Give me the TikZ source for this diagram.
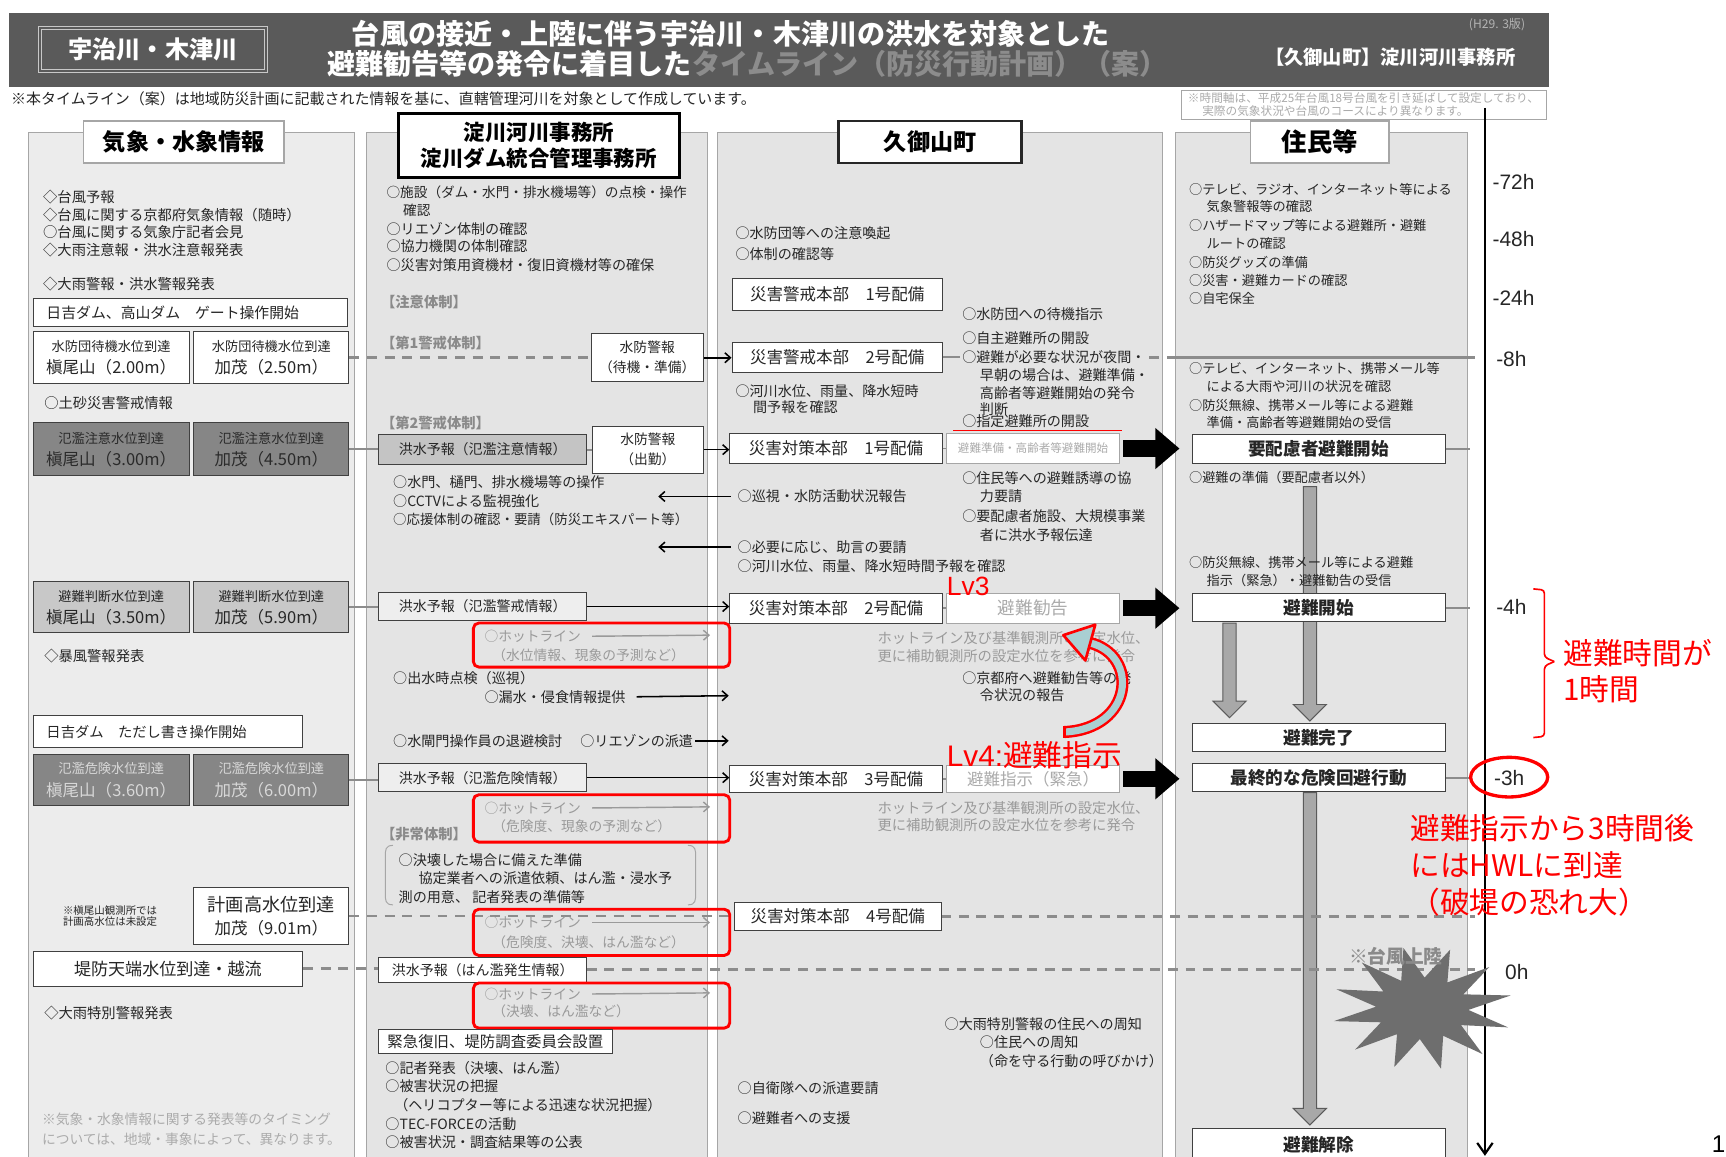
\documentclass[tikz,border=0pt]{standalone}
\usepackage{fontspec}
\setmainfont{Noto Sans CJK JP}
\newfontfamily\lat{Liberation Sans}
\usetikzlibrary{arrows.meta,fit,calc}
\newcommand\fsz[1]{\fontsize{#1}{#1}\selectfont}
\definecolor{txt}{HTML}{262626}
\definecolor{hdr}{HTML}{5A5A5A}
\definecolor{hdrline}{HTML}{C8C8C8}
\definecolor{hdrgray}{HTML}{8C8C8C}
\definecolor{lgray}{HTML}{B4B4B4}
\definecolor{colbg}{HTML}{E4E4E4}
\definecolor{colbgA}{HTML}{ECECEC}
\definecolor{colline}{HTML}{A6A6A6}
\definecolor{bxline}{HTML}{404040}
\definecolor{hgray}{HTML}{8A8A8A}
\definecolor{hotgray}{HTML}{9A9A9A}
\definecolor{tickgray}{HTML}{8C8C8C}
\definecolor{dashgray}{HTML}{8C8C8C}
\definecolor{darkbox}{HTML}{868686}
\definecolor{lightbox}{HTML}{C8C8C8}
\definecolor{fboxA}{HTML}{C4C4C4}
\definecolor{fboxB}{HTML}{EEEEEE}
\definecolor{gtext}{HTML}{ABABAB}
\definecolor{curv}{HTML}{A9CFD2}
\definecolor{burst}{HTML}{6E6E6E}
\definecolor{blkfill}{HTML}{A8A8A8}
\definecolor{blkline}{HTML}{5A5A5A}
\definecolor{darktxt}{HTML}{2A2A2A}
\definecolor{lighttxt}{HTML}{D8D8D8}
\tikzset{
  tl/.style={anchor=west, inner sep=0pt, text=txt, font=\fsz{12.8}},
  tlc/.style={anchor=west, inner sep=0pt, text=txt, font=\fsz{12}},
  hd/.style={anchor=west, inner sep=0pt, text=hgray, font=\bfseries\fsz{13}},
  bx/.style={draw=bxline, fill=white, line width=0.9pt, inner sep=0pt, text=txt},
  rbox/.style={draw=red, line width=2.6pt, rounded corners=5pt},
  hot/.style={anchor=west, inner sep=0pt, text=hotgray, font=\fsz{12.5}},
  harr/.style={draw=hotgray, line width=1.3pt, -{Straight Barb[length=5pt,width=9pt]}},
  arr/.style={draw=black, line width=1.4pt, -{Straight Barb[length=5pt,width=9pt]}},
  tick/.style={draw=tickgray, line width=1.6pt},
  dsh/.style={draw=dashgray, line width=2.4pt, dash pattern=on 9pt off 7pt},
  bigarr/.style={draw=black, line width=15pt, -{Triangle[length=22pt,width=36pt]}},
  colm/.style={fill=colbg, draw=colline, line width=0.8pt},
  ttl/.style={fill=white, inner sep=0pt},
  tlab/.style={font=\lat\fsz{19}, inner sep=0pt, text=txt},
  redt/.style={anchor=west, inner sep=0pt, text=red, font=\fsz{27}},
}
% box with centred text: name, box options, text options, text
\newcommand\tbox[4]{%
  \node[bx, #2] (#1) {};
  \node[inner sep=0pt, text=txt, #3] (#1t) at (#1.center) {#4};}
% name, x0, x1, y0, y1, fill, textcolor, line1, line2
\newcommand\lvbox[9]{%
  \node[bx, fill=#6, fit={(#2,#4)(#3,#5)}] (#1) {};
  \node[inner sep=0pt, text=#7, font=\fsz{12}] (#1a) at ($(#1.center)+(0,-10)$) {#8};
  \node[inner sep=0pt, text=#7, font=\fsz{15}] (#1b) at ($(#1.center)+(0,9)$) {#9};}
% x, ytop, ybottom
\newcommand\vblk[3]{%
  \filldraw[fill=blkfill, draw=blkline, line width=0.9pt] ({#1-6},#2) -- ({#1+6},#2) -- ({#1+6},{#3-15}) -- ({#1+15},{#3-15}) -- (#1,#3) -- ({#1-15},{#3-15}) -- ({#1-6},{#3-15}) -- cycle;}
\begin{document}
\begin{tikzpicture}[x=1pt,y=-1pt]
\useasboundingbox (0,0) rectangle (1568,1051);
\fill[white] (0,0) rectangle (1568,1051);
% ---------- header ----------
\fill[hdr] (8,12) rectangle (1407,79);
\draw[hdrline, line width=1.2pt] (35,24) rectangle (243,66);
\draw[hdrline, line width=0.6pt] (38,27) rectangle (240,63);
\node[inner sep=0pt, text=white, font=\bfseries\fsz{22}] (river) at (139,45) {宇治川・木津川};
\node[inner sep=0pt, text=white, font=\bfseries\fsz{25.5}] (title1) at (664,31) {台風の接近・上陸に伴う宇治川・木津川の洪水を対象とした};
\node[anchor=west, inner sep=0pt, text=white, font=\bfseries\fsz{25.5}] (title2) at (297,58) {避難勧告等の発令に着目した\textcolor{hdrgray}{タイムライン（防災行動計画）（案）}};
\node[inner sep=0pt, text=lgray, font=\fsz{11}] (ver) at (1360,22) {(H29. 3版)};
\node[inner sep=0pt, text=white, font=\bfseries\fsz{17.5}] (office) at (1263,52) {【久御山町】淀川河川事務所};
\node[tl, font=\fsz{13.6}] (note0) at (10,90) {※本タイムライン（案）は地域防災計画に記載された情報を基に、直轄管理河川を対象として作成しています。};
\node[draw=colline, fill=white, inner sep=0pt, fit={(1073,82)(1405,108)}] (nbox) {};
\node[anchor=west, inner sep=0pt, text=gtext, font=\fsz{10.6}] (nb1) at (1079,89) {※時間軸は、平成25年台風18号台風を引き延ばして設定しており、};
\node[anchor=west, inner sep=0pt, text=gtext, font=\fsz{10.6}] (nb2) at (1092,101) {実際の気象状況や台風のコースにより異なります。};
% ---------- columns ----------
\filldraw[colm, fill=colbgA] (26,120) rectangle (322,1062);
\filldraw[colm] (333,120) rectangle (643,1062);
\filldraw[colm] (652,120) rectangle (1056,1062);
\filldraw[colm] (1068,120) rectangle (1333,1062);
\node[ttl, draw=colline, line width=1.5pt, fit={(76,110)(258,148)}] (h1) {};
\node[inner sep=0pt, font=\bfseries\fsz{21}] (h1t) at (h1.center) {気象・水象情報};
\node[ttl, draw=black, line width=2.5pt, fit={(362,103)(617,161)}] (h2) {};
\node[inner sep=0pt, align=center, font=\bfseries\fontsize{19.5}{23}\selectfont] (h2t) at (h2.center) {淀川河川事務所\\淀川ダム統合管理事務所};
\node[ttl, draw=black!85, line width=2.5pt, fit={(762,110)(928,148)}] (h3) {};
\node[inner sep=0pt, font=\bfseries\fsz{21}] (h3t) at (h3.center) {久御山町};
\node[ttl, draw=colline, line width=1.5pt, fit={(1136,110)(1262,148)}] (h4) {};
\node[inner sep=0pt, font=\bfseries\fsz{23}] (h4t) at (h4.center) {住民等};
% ---------- time axis ----------
\coordinate (ax0) at (1349,98);
\coordinate (ax1) at (1349,1050);
\draw[line width=2pt, -{Straight Barb[length=10pt,width=14pt]}] (ax0) -- (ax1);
\node[tlab] (t72) at (1375,165) {-72h};
\node[tlab] (t48) at (1375,217) {-48h};
\node[tlab] (t24) at (1375,271) {-24h};
\node[tlab] (t8) at (1373,326) {-8h};
\node[tlab] (t4) at (1373,551) {-4h};
\node[tlab] (t3) at (1371,707) {-3h};
\node[tlab] (t0) at (1378,883) {0h};
% ---------- block arrows in residents column ----------
\vblk{1190}{442}{655}
\vblk{1117}{566}{652}
\vblk{1190}{720}{1022}
% ---------- column 1 ----------
\node[tl, font=\fsz{13}] (c1a) at (39,179) {◇台風予報};
\node[tl, font=\fsz{13}] (c1b) at (39,195) {◇台風に関する京都府気象情報（随時）};
\node[tl, font=\fsz{13}] (c1c) at (39,211) {○台風に関する気象庁記者会見};
\node[tl, font=\fsz{13}] (c1d) at (39,227) {◇大雨注意報・洪水注意報発表};
\node[tl, font=\fsz{13}] (c1e) at (39,258) {◇大雨警報・洪水警報発表};
\node[bx, fit={(30,271)(316,297)}] (gate) {};
\node[tl, font=\fsz{13.5}] (gatet) at (42,284) {日吉ダム、高山ダム　ゲート操作開始};
\lvbox{m1}{30}{172}{301}{348}{white}{txt}{水防団待機水位到達}{槇尾山（2.00m）}
\lvbox{m2}{176}{317}{301}{348}{white}{txt}{水防団待機水位到達}{加茂（2.50m）}
\node[tl, font=\fsz{13}] (c1f) at (40,366) {○土砂災害警戒情報};
\lvbox{m3}{30}{172}{384}{432}{darkbox}{darktxt}{氾濫注意水位到達}{槇尾山（3.00m）}
\lvbox{m4}{176}{317}{384}{432}{darkbox}{darktxt}{氾濫注意水位到達}{加茂（4.50m）}
\lvbox{m5}{30}{172}{528}{575}{lightbox}{txt}{避難判断水位到達}{槇尾山（3.50m）}
\lvbox{m6}{176}{317}{528}{575}{lightbox}{txt}{避難判断水位到達}{加茂（5.90m）}
\node[tl, font=\fsz{13}] (c1g) at (40,596) {◇暴風警報発表};
\node[bx, fit={(30,650)(275,679)}] (tadashi) {};
\node[tl, font=\fsz{13}] (tadashit) at (42,665) {日吉ダム　ただし書き操作開始};
\lvbox{m7}{30}{172}{685}{732}{darkbox}{lighttxt}{氾濫危険水位到達}{槇尾山（3.60m）}
\lvbox{m8}{176}{317}{685}{732}{darkbox}{lighttxt}{氾濫危険水位到達}{加茂（6.00m）}
\node[inner sep=0pt, text=txt, font=\fsz{9.5}, align=center] (c1note) at (100,832) {※槇尾山観測所では\\計画高水位は未設定};
\node[bx, fit={(176,806)(317,858)}] (hwl) {};
\node[inner sep=0pt, text=txt, font=\fsz{16.5}] (hwla) at (246.5,822) {計画高水位到達};
\node[inner sep=0pt, text=txt, font=\fsz{15}] (hwlb) at (246.5,843) {加茂（9.01m）};
\tbox{tei}{fit={(30,864)(275,896)}}{font=\fsz{15.5}}{堤防天端水位到達・越流}
\node[tl, font=\fsz{13}] (c1h) at (40,920) {◇大雨特別警報発表};
\node[tl, font=\fsz{12.5}, text=gtext] (c1i) at (38,1017) {※気象・水象情報に関する発表等のタイミング};
\node[tl, font=\fsz{12.5}, text=gtext] (c1j) at (38,1035) {については、地域・事象によって、異なります。};
% ---------- dashed lines ----------
\draw[dsh] (m2.east) -- (m2.east -| 537,0);
\draw[dsh] (1044,325) -- (1340,325);
\draw[dsh] (hwl.east) -- (hwl.east -| 667,0);
\draw[dsh] (855,832.5) -- (1340,832.5);
\draw[dsh] (tei.east) -- (344,880);
\draw[dsh] (533,881) -- (1340,881);
% ---------- column 2 ----------
\node[tl, font=\fsz{12.4}] (c2a) at (351,175) {○施設（ダム・水門・排水機場等）の点検・操作};
\node[tl, font=\fsz{12.4}] (c2b) at (366,191) {確認};
\node[tl, font=\fsz{12.8}] (c2c) at (351,208) {○リエゾン体制の確認};
\node[tl, font=\fsz{12.8}] (c2d) at (351,224) {○協力機関の体制確認};
\node[tl, font=\fsz{12.8}] (c2e) at (351,241) {○災害対策用資機材・復旧資機材等の確保};
\node[hd] (s1) at (346,274) {【注意体制】};
\node[hd] (s2) at (346,312) {【第1警戒体制】};
\tbox{w1}{fit={(537,303)(639,347)}}{align=center, font=\fontsize{12.5}{18}\selectfont}{水防警報\\（待機・準備）}
\node[hd] (s3) at (346,384) {【第2警戒体制】};
\tbox{f1}{fill=fboxA, fit={(344,395)(533,422)}}{font=\fsz{12.7}}{洪水予報（氾濫注意情報）}
\tbox{w2}{fit={(538,387)(639,430)}}{align=center, font=\fontsize{12.5}{18}\selectfont}{水防警報\\（出勤）}
\node[tl] (c2f) at (357,438) {○水門、樋門、排水機場等の操作};
\node[tl] (c2g) at (357,455) {○CCTVによる監視強化};
\node[tl, font=\fsz{12.2}] (c2h) at (357,472) {○応援体制の確認・要請（防災エキスパート等）};
\tbox{f2}{fill=fboxB, fit={(344,538)(533,564)}}{font=\fsz{12.7}}{洪水予報（氾濫警戒情報）}
\node[hot] (hot1) at (440,578) {○ホットライン};
\coordinate (hot1e) at (645,577);
\draw[harr] ([xshift=10pt]hot1.east) -- (hot1e);
\node[hot] (hot1b) at (447,595) {（水位情報、現象の予測など）};
\draw[rbox] (430,566) rectangle (663,606);
\node[tl] (c2i) at (357,616) {○出水時点検（巡視）};
\node[tl] (rosui) at (440,633) {○漏水・侵食情報提供};
\coordinate (rosuie) at (662,632);
\draw[arr] ([xshift=10pt]rosui.east) -- (rosuie);
\node[tl] (c2j) at (357,673) {○水閘門操作員の退避検討};
\node[tl] (liaison) at (527,673) {○リエゾンの派遣};
\coordinate (liaisone) at (662,673);
\draw[arr] ([xshift=2pt]liaison.east) -- (liaisone);
\tbox{f3}{fill=fboxB, fit={(344,694)(533,719)}}{font=\fsz{12.7}}{洪水予報（氾濫危険情報）}
\node[hot] (hot2) at (440,734) {○ホットライン};
\coordinate (hot2e) at (645,733);
\draw[harr] ([xshift=10pt]hot2.east) -- (hot2e);
\node[hot] (hot2b) at (447,751) {（危険度、現象の予測など）};
\draw[rbox] (430,722) rectangle (663,765);
\node[hd] (s4) at (346,758) {【非常体制】};
\draw[colline, line width=0.9pt] (357,768) .. controls (350,768) and (350,772) .. (350,779) -- (350,811) .. controls (350,818) and (350,822) .. (357,822);
\draw[colline, line width=0.9pt] (625,768) .. controls (632,768) and (632,772) .. (632,779) -- (632,811) .. controls (632,818) and (632,822) .. (625,822);
\node[tl] (c2k) at (362,781) {○決壊した場合に備えた準備};
\node[tl] (c2l) at (380,798) {協定業者への派遣依頼、はん濫・浸水予};
\node[tl] (c2m) at (362,815) {測の用意、 記者発表の準備等};
\node[hot] (hot3) at (440,838) {○ホットライン};
\coordinate (hot3e) at (645,838);
\draw[harr] ([xshift=10pt]hot3.east) -- (hot3e);
\node[hot] (hot3b) at (447,856) {（危険度、決壊、はん濫など）};
\draw[rbox] (430,826) rectangle (663,868);
\tbox{f4}{fit={(344,870)(533,893)}}{font=\fsz{12.7}}{洪水予報（はん濫発生情報）}
\node[hot] (hot4) at (440,903) {○ホットライン};
\coordinate (hot4e) at (645,902);
\draw[harr] ([xshift=10pt]hot4.east) -- (hot4e);
\node[hot] (hot4b) at (447,919) {（決壊、はん濫など）};
\draw[rbox] (430,893) rectangle (663,934);
\tbox{f5}{fit={(344,935)(556,957)}}{font=\fsz{14}}{緊急復旧、堤防調査委員会設置}
\node[tl] (c2n) at (350,970) {○記者発表（決壊、はん濫）};
\node[tl] (c2o) at (350,987) {○被害状況の把握};
\node[tl] (c2p) at (358,1004) {（ヘリコプター等による迅速な状況把握）};
\node[tl] (c2q) at (350,1021) {○TEC-FORCEの活動};
\node[tl] (c2r) at (350,1038) {○被害状況・調査結果等の公表};
% ---------- column 3 ----------
\node[tl] (c3a) at (668,212) {○水防団等への注意喚起};
\node[tl] (c3b) at (668,231) {○体制の確認等};
\tbox{k1}{fit={(665,253)(856,282)}}{font=\fsz{15}}{災害警戒本部　1号配備}
\node[tl] (c3c) at (874,285) {○水防団への待機指示};
\node[tl] (c3d) at (874,307) {○自主避難所の開設};
\tbox{k2}{fit={(665,311)(856,338)}}{font=\fsz{15}}{災害警戒本部　2号配備}
\draw[tick] (k2.east) -- (872,324.5);
\node[tl] (c3e) at (874,324) {○避難が必要な状況が夜間・};
\node[tl] (c3f) at (890,341) {早朝の場合は、避難準備・};
\node[tl] (c3g) at (890,357) {高齢者等避難開始の発令};
\node[tl] (c3h) at (890,372) {判断};
\node[tl] (c3i) at (668,355) {○河川水位、雨量、降水短時};
\node[tl] (c3j) at (684,370) {間予報を確認};
\node[tl] (c3k) at (874,383) {○指定避難所の開設};
\draw[red, line width=1.2pt] (866,391) -- (1019,391);
\tbox{t1}{fit={(663,394)(856,421)}}{font=\fsz{15}}{災害対策本部　1号配備}
\tbox{g1}{draw=colline, fit={(860,394)(1017,421)}}{font=\fsz{10.5}, text=gtext}{避難準備・高齢者等避難開始}
\node[tl] (jun) at (670,451) {○巡視・水防活動状況報告};
\coordinate (la1) at (598,451);
\draw[arr] ($(jun.west)+(-6,0)$) -- (la1);
\node[tl] (c3l) at (874,434) {○住民等への避難誘導の協};
\node[tl] (c3m) at (890,451) {力要請};
\node[tl] (c3n) at (874,469) {○要配慮者施設、大規模事業};
\node[tl] (c3o) at (890,486) {者に洪水予報伝達};
\node[tl] (jogen) at (670,497) {○必要に応じ、助言の要請};
\coordinate (la2) at (598,497);
\draw[arr] ($(jogen.west)+(-6,0)$) -- (la2);
\node[tl] (c3p) at (670,514) {○河川水位、雨量、降水短時間予報を確認};
\tbox{t2}{fit={(663,539)(856,566)}}{font=\fsz{15}}{災害対策本部　2号配備}
\tbox{g2}{draw=colline, fit={(860,539)(1017,566)}}{font=\fsz{16}, text=gtext}{避難勧告}
\node[anchor=west, inner sep=0pt, text=hotgray, font=\fsz{13}] (hl1) at (797,580) {ホットライン及び基準観測所の設定水位、};
\node[anchor=west, inner sep=0pt, text=hotgray, font=\fsz{13}] (hl2) at (797,596) {更に補助観測所の設定水位を参考に発令};
\node[tl] (c3q) at (874,616) {○京都府へ避難勧告等の発};
\node[tl] (c3r) at (890,632) {令状況の報告};
\tbox{t3}{fit={(663,695)(856,720)}}{font=\fsz{15}}{災害対策本部　3号配備}
\tbox{g3}{draw=colline, fit={(860,695)(1017,720)}}{font=\fsz{15}, text=gtext}{避難指示（緊急）}
\node[anchor=west, inner sep=0pt, text=hotgray, font=\fsz{13}] (hl3) at (797,734) {ホットライン及び基準観測所の設定水位、};
\node[anchor=west, inner sep=0pt, text=hotgray, font=\fsz{13}] (hl4) at (797,750) {更に補助観測所の設定水位を参考に発令};
\tbox{k4}{fit={(667,820)(855,845)}}{font=\fsz{15}}{災害対策本部　4号配備}
\node[tl] (c3s) at (858,930) {○大雨特別警報の住民への周知};
\node[tl] (c3t) at (890,947) {○住民への周知};
\node[tl] (c3u) at (890,964) {（命を守る行動の呼びかけ）};
\node[tl] (c3v) at (670,989) {○自衛隊への派遣要請};
\node[tl] (c3w) at (670,1016) {○避難者への支援};
% ---------- column 4 ----------
\node[tlc] (c4a) at (1080,172) {○テレビ、ラジオ、インターネット等による};
\node[tlc] (c4b) at (1096,188) {気象警報等の確認};
\node[tlc] (c4c) at (1080,205) {○ハザードマップ等による避難所・避難};
\node[tlc] (c4d) at (1096,221) {ルートの確認};
\node[tlc] (c4e) at (1080,238) {○防災グッズの準備};
\node[tlc] (c4f) at (1080,255) {○災害・避難カードの確認};
\node[tlc] (c4g) at (1080,271) {○自宅保全};
\draw[dsh] (1068,325) -- (1340,325);
\node[tlc] (c4h) at (1080,335) {○テレビ、インターネット、携帯メール等};
\node[tlc] (c4i) at (1096,351) {による大雨や河川の状況を確認};
\node[tlc] (c4j) at (1080,368) {○防災無線、携帯メール等による避難};
\node[tlc] (c4k) at (1096,384) {準備・高齢者等避難開始の受信};
\tbox{y1}{fit={(1083,395)(1313,421)}}{font=\bfseries\fsz{16}}{要配慮者避難開始}
\node[tlc] (c4l) at (1080,434) {○避難の準備（要配慮者以外）};
\node[tlc] (c4m) at (1080,511) {○防災無線、携帯メール等による避難};
\node[tlc] (c4n) at (1096,527) {指示（緊急）・避難勧告の受信};
\tbox{y2}{fit={(1083,539)(1313,565)}}{font=\bfseries\fsz{16}}{避難開始}
\tbox{y3}{fit={(1083,657)(1313,683)}}{font=\bfseries\fsz{16}}{避難完了}
\tbox{y4}{fit={(1083,694)(1313,719)}}{font=\bfseries\fsz{16}}{最終的な危険回避行動}
\fill[burst] plot[samples at={0,15,...,345}] ({1292+(mod(\x,30)==0 ? 82 : 42)*cos(\x+12)}, {916-(mod(\x,30)==0 ? 56 : 28)*sin(\x+12)}) -- cycle;
\node[inner sep=0pt, text=hgray, font=\bfseries\fsz{17}] (landfall) at (1268,869) {※台風上陸};
\node[bx, fit={(1083,1025)(1313,1065)}] (y5) {};
\node[inner sep=0pt, font=\bfseries\fsz{16}, text=txt] (y5t) at (1198,1040) {避難解除};
\draw[tick] (y1.east) -- ++(22,0);
\draw[tick] (y2.east) -- ++(22,0);
\draw[tick] (y4.east) -- ++(22,0);
% ---------- connectors ----------
\draw[arr] (w1.east) -- (w1.east -| k2.west);
\draw[tick] (f1.east) -- (w2.west |- f1.east);
\draw[arr] (w2.east) -- (w2.east -| t1.west);
\draw[tick] (m4.east) -- (m4.east -| f1.west);
\draw[tick] (m6.east) -- (m6.east -| f2.west);
\draw[tick] (m8.east) -- (m8.east -| f3.west);
\draw[arr] (f2.east) -- (f2.east -| t2.west);
\draw[arr] (f3.east) -- (f3.east -| t3.west);
\draw[tick] (t1.east) -- (g1.west);
\draw[tick] (t2.east) -- (g2.west);
\draw[tick] (t3.east) -- (g3.west);
\draw[bigarr] ([xshift=3pt]g1.east) -- ($(g1.east -| y1.west)+(-11,0)$);
\draw[bigarr] ([xshift=3pt]g2.east) -- ($(g2.east -| y2.west)+(-11,0)$);
\draw[bigarr] ([xshift=3pt]g3.east) -- ($(g3.east -| y4.west)+(-11,0)$);
% ---------- red annotations ----------
\node[redt, font=\lat\fsz{24}] (lv3) at (860,533) {Lv3};
\draw[red, line width=11pt] (967,665) .. controls (1030,662) and (1035,595) .. (990,584);
\draw[curv, line width=6.5pt] (967,665) .. controls (1030,662) and (1035,595) .. (990,584);
\draw[red, line width=2.2pt] (967,659.5) -- (967,670.5);
\filldraw[fill=curv, draw=red, line width=2.4pt, line join=round] (966,577) -- (995,567.5) -- (986,600) -- cycle;
\node[redt] (lv4) at (860,686) {{\lat Lv4:}避難指示};
\draw[red, line width=3pt] (1371,706) ellipse [x radius=35, y radius=18];
\draw[red, line width=1.5pt, rounded corners=3pt] (1393,535) -- (1403,536) -- (1403,597) -- (1412,601);
\draw[red, line width=1.5pt, rounded corners=3pt] (1412,601) -- (1403,605) -- (1403,669) -- (1393,670);
\node[redt] (r1) at (1420,593) {避難時間が};
\node[redt] (r2) at (1420,626) {1時間};
\node[redt] (r3) at (1281,752) {避難指示から3時間後};
\node[redt] (r4) at (1281,786) {にはHWLに到達};
\node[redt] (r5) at (1281,820) {（破堤の恐れ大）};
\node[anchor=north west, inner sep=0pt, font=\lat\fsz{22}, text=black] (pg) at (1555,1032) {1};
\end{tikzpicture}
\end{document}
